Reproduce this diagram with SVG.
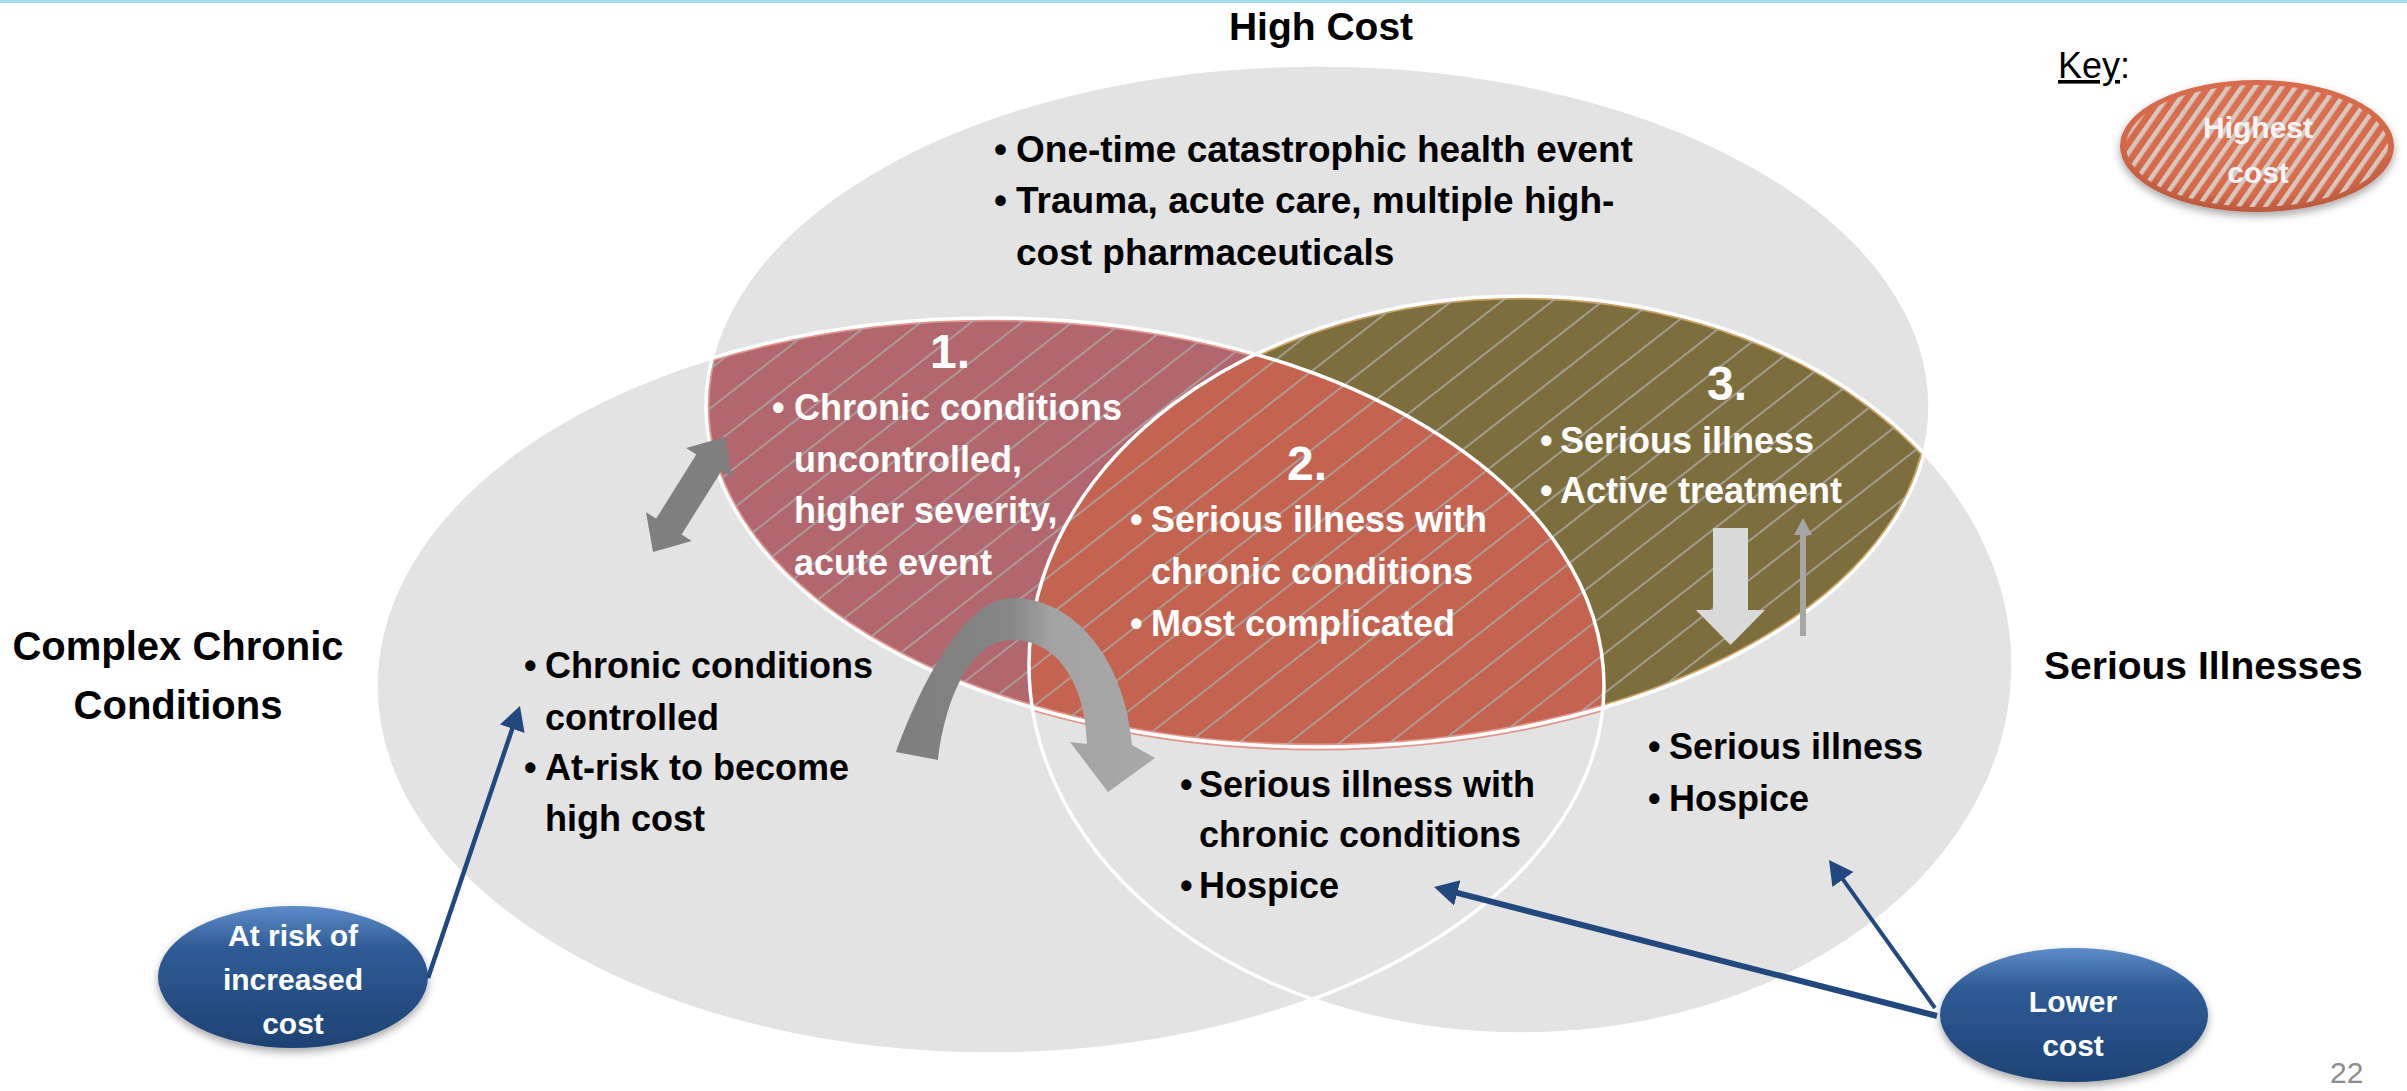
<svg xmlns="http://www.w3.org/2000/svg" width="2407" height="1091" viewBox="0 0 2407 1091">
<defs>
<style>
.t{font-family:"Liberation Sans",Arial,sans-serif;font-weight:bold;font-size:36px}
.k{fill:#000}
.w{fill:#fff}
.title{font-size:40px}
.num{font-size:48px;text-anchor:middle;fill:#fff}
.lbl{font-size:30px;text-anchor:middle;fill:#fff}
.venn{fill:#e3e3e3}
.edge{fill:none;stroke:#fff;stroke-width:3.5}
.conn{fill:none;stroke:#22497e}
</style>
<clipPath id="cL"><ellipse cx="990" cy="686" rx="614" ry="368"/></clipPath>
<clipPath id="cR"><ellipse cx="1521" cy="665" rx="492" ry="369"/></clipPath>
<clipPath id="cT"><ellipse cx="1318" cy="406" rx="612" ry="341"/></clipPath>
<clipPath id="cLR"><ellipse cx="990" cy="686" rx="614" ry="368"/><ellipse cx="1521" cy="665" rx="492" ry="369"/></clipPath>
<pattern id="hatch" patternUnits="userSpaceOnUse" width="60" height="31" patternTransform="rotate(-38)">
<line x1="0" y1="15" x2="60" y2="15" stroke="#ababab" stroke-width="1.6"/>
</pattern>
<pattern id="stripes" patternUnits="userSpaceOnUse" width="40" height="11" patternTransform="rotate(-55)">
<rect x="0" y="3" width="40" height="4.5" fill="#d6d2cc"/>
</pattern>
<radialGradient id="gKey" cx="0.5" cy="0.4" r="0.6">
<stop offset="0" stop-color="#de7656"/><stop offset="0.8" stop-color="#d56a4b"/><stop offset="1" stop-color="#b9573b"/>
</radialGradient>
<linearGradient id="gBlue" x1="0" y1="0" x2="0" y2="1">
<stop offset="0" stop-color="#5e8cc8"/><stop offset="0.3" stop-color="#2f5b96"/><stop offset="1" stop-color="#1e4274"/>
</linearGradient>
<linearGradient id="gCurve" x1="0" y1="0" x2="1" y2="0">
<stop offset="0" stop-color="#7d7d7d"/><stop offset="0.45" stop-color="#878787"/><stop offset="0.6" stop-color="#a3a3a3"/><stop offset="1" stop-color="#a8a8a8"/>
</linearGradient>
<filter id="sh" x="-20%" y="-20%" width="140%" height="150%">
<feDropShadow dx="0" dy="4" stdDeviation="4" flood-color="#000" flood-opacity="0.35"/>
</filter>
<marker id="ah" viewBox="0 -15 24 30" markerWidth="24" markerHeight="30" refX="1" refY="0" orient="auto" markerUnits="userSpaceOnUse">
<path d="M0,-13 L24,0 L0,13 Z" fill="#22497e"/>
</marker>
</defs>

<rect x="0" y="0" width="2407" height="1091" fill="#fff"/>
<rect x="0" y="0" width="2407" height="3" fill="#a3dcef"/>

<g id="venn">
<ellipse class="venn" cx="990" cy="686" rx="614" ry="368"/>
<ellipse class="venn" cx="1521" cy="665" rx="492" ry="369"/>
<ellipse class="venn" cx="1318" cy="406" rx="612" ry="341"/>
<g clip-path="url(#cL)"><ellipse cx="1318" cy="406" rx="612" ry="341" fill="#b1676d"/></g>
<g clip-path="url(#cR)"><ellipse cx="1318" cy="406" rx="612" ry="341" fill="#7f6e3d"/></g>
<g clip-path="url(#cL)"><g clip-path="url(#cT)">
<ellipse cx="1318" cy="406" rx="612" ry="341" fill="none" stroke="#e2958b" stroke-width="7"/>
<ellipse cx="990" cy="686" rx="614" ry="368" fill="none" stroke="#e2958b" stroke-width="7"/>
</g></g>
<g clip-path="url(#cR)"><g clip-path="url(#cT)">
<ellipse cx="1318" cy="406" rx="612" ry="341" fill="none" stroke="#c9a263" stroke-width="7"/>
<ellipse cx="1521" cy="665" rx="492" ry="369" fill="none" stroke="#c9a263" stroke-width="7"/>
</g></g>
<g clip-path="url(#cL)"><g clip-path="url(#cR)">
<ellipse cx="1318" cy="406" rx="612" ry="341" fill="#c4634f" stroke="#e2958b" stroke-width="7"/>
</g></g>
<g clip-path="url(#cLR)"><ellipse cx="1318" cy="406" rx="612" ry="341" fill="url(#hatch)"/></g>
<ellipse class="edge" cx="990" cy="686" rx="614" ry="368"/>
<ellipse class="edge" cx="1521" cy="665" rx="492" ry="369"/>
<ellipse class="edge" cx="1318" cy="406" rx="612" ry="341"/>
</g>

<g id="node-high-cost">
<text class="t k title" x="1321" y="40" text-anchor="middle" style="font-size:39px">High Cost</text>
<text class="t k" style="font-size:37px"><tspan x="994" y="162">•</tspan><tspan x="1016" y="162">One-time catastrophic health event</tspan><tspan x="994" y="213">•</tspan><tspan x="1016" y="213">Trauma, acute care, multiple high-</tspan><tspan x="1016" y="265">cost pharmaceuticals</tspan></text>
</g>

<g id="node-complex-chronic">
<text class="t k title" text-anchor="middle"><tspan x="178" y="660">Complex Chronic</tspan><tspan x="178" y="719">Conditions</tspan></text>
<text class="t k"><tspan x="524" y="678">•</tspan><tspan x="545" y="678">Chronic conditions</tspan><tspan x="545" y="730">controlled</tspan><tspan x="524" y="780">•</tspan><tspan x="545" y="780">At-risk to become</tspan><tspan x="545" y="831">high cost</tspan></text>
</g>

<g id="node-serious-illnesses">
<text class="t k" x="2044" y="679" style="font-size:39px">Serious Illnesses</text>
<text class="t k"><tspan x="1648" y="759">•</tspan><tspan x="1669" y="759">Serious illness</tspan><tspan x="1648" y="811">•</tspan><tspan x="1669" y="811">Hospice</tspan></text>
</g>

<g id="node-region1">
<text class="t num" x="950" y="368">1.</text>
<text class="t w"><tspan x="772" y="420">•</tspan><tspan x="794" y="420">Chronic conditions</tspan><tspan x="794" y="472">uncontrolled,</tspan><tspan x="794" y="523">higher severity,</tspan><tspan x="794" y="575">acute event</tspan></text>
</g>

<g id="node-region2">
<text class="t num" x="1307" y="480">2.</text>
<text class="t w"><tspan x="1130" y="532">•</tspan><tspan x="1151" y="532">Serious illness with</tspan><tspan x="1151" y="584">chronic conditions</tspan><tspan x="1130" y="636">•</tspan><tspan x="1151" y="636">Most complicated</tspan></text>
</g>

<g id="node-region3">
<text class="t num" x="1727" y="400">3.</text>
<text class="t w"><tspan x="1540" y="453">•</tspan><tspan x="1560" y="453">Serious illness</tspan><tspan x="1540" y="503">•</tspan><tspan x="1560" y="503">Active treatment</tspan></text>
</g>

<g id="node-overlap-lower">
<text class="t k"><tspan x="1180" y="797">•</tspan><tspan x="1199" y="797">Serious illness with</tspan><tspan x="1199" y="847">chronic conditions</tspan><tspan x="1180" y="898">•</tspan><tspan x="1199" y="898">Hospice</tspan></text>
</g>

<g id="node-key">
<text x="2058" y="78" style="font-family:'Liberation Sans',Arial,sans-serif;font-size:36px" fill="#000"><tspan text-decoration="underline">Key</tspan>:</text>
<g filter="url(#sh)">
<ellipse cx="2257" cy="146" rx="137" ry="66" fill="url(#gKey)"/>
</g>
<ellipse cx="2257" cy="146" rx="131" ry="61" fill="url(#stripes)" opacity="0.9"/>
<text class="t lbl" style="fill:#f4f4f4"><tspan x="2258" y="138">Highest</tspan><tspan x="2258" y="183">cost</tspan></text>
</g>

<g id="node-at-risk">
<ellipse cx="293" cy="977" rx="135" ry="71" fill="url(#gBlue)" filter="url(#sh)"/>
<text class="t lbl"><tspan x="293" y="946">At risk of</tspan><tspan x="293" y="990">increased</tspan><tspan x="293" y="1034">cost</tspan></text>
</g>

<g id="node-lower-cost">
<ellipse cx="2074" cy="1015" rx="134" ry="67" fill="url(#gBlue)" filter="url(#sh)"/>
<text class="t lbl"><tspan x="2073" y="1012">Lower</tspan><tspan x="2073" y="1056">cost</tspan></text>
</g>

<g id="connectors">
<path class="conn" d="M428,978 L512.6,727.8" stroke-width="4.5" marker-end="url(#ah)"/>
<path class="conn" d="M1937,1016 L1456.3,892.7" stroke-width="6" marker-end="url(#ah)"/>
<path class="conn" d="M1935,1008 L1842.4,878.7" stroke-width="4" marker-end="url(#ah)"/>
<polygon points="725,437 731.9,476.7 721.7,470.4 681.6,534.6 691.8,540.9 653,552 646,512.3 656.2,518.6 696.3,454.4 686.1,448.1" fill="#7f7f7f"/>
<path d="M896,752 C915,700 960,598 1012,598 C1075,598 1125,660 1132,745 L1155,758 L1108,792 L1070,742 L1087,744 C1085,680 1055,640 1012,640 C970,640 945,700 938,760 Z" fill="url(#gCurve)"/>
<polygon points="1713,528 1748,528 1748,610 1765,610 1730.5,645 1696,610 1713,610" fill="#d9d9d9"/>
<polygon points="1800,636 1800,535 1794,535 1803,518 1812,535 1806,535 1806,636" fill="#a6a6a6"/>
</g>

<text x="2330" y="1083" style="font-family:'Liberation Sans',Arial,sans-serif;font-size:30px" fill="#8c8c8c">22</text>
</svg>
